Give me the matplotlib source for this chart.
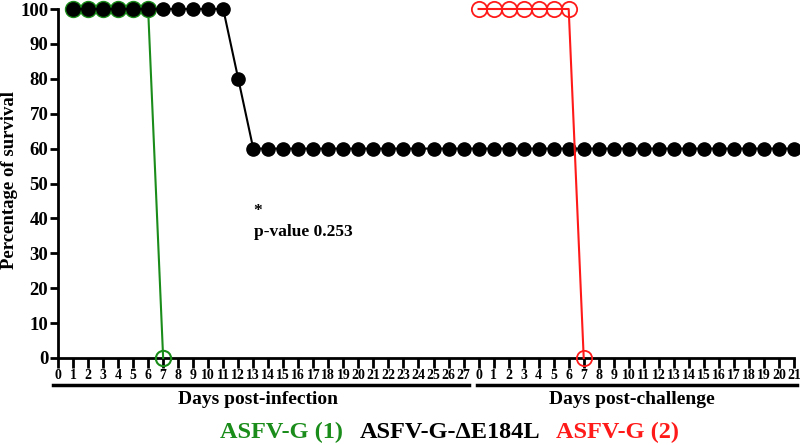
import matplotlib
matplotlib.use("Agg")
import matplotlib.pyplot as plt

# ---- data ----
infection_days = [0, 1, 2, 3, 4, 5, 6, 7, 8, 9, 10, 11, 12, 13, 14, 15, 16, 17, 18, 19,
                  20, 21, 22, 23, 24, 25, 26, 27]
challenge_days = [0, 1, 2, 3, 4, 5, 6, 7, 8, 9, 10, 11, 12, 13, 14, 15, 16, 17, 18, 19, 20, 21]

green_days = [1, 2, 3, 4, 5, 6, 7]
green_surv = [100, 100, 100, 100, 100, 100, 0]

black_inf_days = [1, 2, 3, 4, 5, 6, 7, 8, 9, 10, 11, 12, 13, 14, 15, 16, 17, 18, 19, 20,
                  21, 22, 23, 24, 25, 26, 27]
black_inf_surv = [100, 100, 100, 100, 100, 100, 100, 100, 100, 100, 100, 80, 60, 60, 60,
                  60, 60, 60, 60, 60, 60, 60, 60, 60, 60, 60, 60]
black_ch_days = [0, 1, 2, 3, 4, 5, 6, 7, 8, 9, 10, 11, 12, 13, 14, 15, 16, 17, 18, 19, 20, 21]
black_ch_surv = [60, 60, 60, 60, 60, 60, 60, 60, 60, 60, 60, 60, 60, 60, 60, 60, 60, 60,
                 60, 60, 60, 60]

red_days = [0, 1, 2, 3, 4, 5, 6, 7]
red_surv = [100, 100, 100, 100, 100, 100, 100, 0]

y_ticks = [0, 10, 20, 30, 40, 50, 60, 70, 80, 90, 100]
xlabel_inf = "Days post-infection"
xlabel_ch = "Days post-challenge"
ylabel = "Percentage of survival"
legend_labels = ["ASFV-G (1)", "ASFV-G-ΔE184L", "ASFV-G (2)"]
legend_colors = ["#1a8c1a", "black", "#ff1a1a"]
annot = "p-value 0.253"

# ---- layout ----
offset = infection_days[-1] + 1  # challenge day 0 placed after infection day 27

plt.rcParams['font.family'] = ['Liberation Serif', 'DejaVu Serif']
plt.rcParams['font.weight'] = 'bold'

W, H = 800, 445
fig = plt.figure(figsize=(W / 100, H / 100), dpi=100)
ax = fig.add_axes([58 / W, 1 - 358 / H, (794 - 58) / W, (358 - 9) / H])

green = legend_colors[0]
red = legend_colors[2]

# green series (open circles)
ax.plot(green_days, green_surv, color=green, lw=1.5, marker='o', ms=11,
        mfc='none', mec=green, mew=1.5, clip_on=False, zorder=3)

# black series
bx = black_inf_days + [d + offset for d in black_ch_days]
by = black_inf_surv + black_ch_surv
ax.plot(bx, by, color='black', lw=1.5, marker='o', ms=9.5, mfc='black', mec='black',
        clip_on=False, zorder=4)

# red series
rx = [d + offset for d in red_days]
ax.plot(rx, red_surv, color=red, lw=1.5, marker='o', ms=11, mfc='none', mec=red,
        mew=1.3, clip_on=False, zorder=5)

ax.set_xlim(0, offset + challenge_days[-1])
ax.set_ylim(0, 100)

for s in ['top', 'right']:
    ax.spines[s].set_visible(False)
for s in ['left', 'bottom']:
    ax.spines[s].set_linewidth(2)

ax.set_yticks(y_ticks)
ax.set_yticklabels([str(v) for v in y_ticks], fontsize=13.5, fontweight='bold')
ax.tick_params(axis='y', length=6, width=2, pad=1)

xt = infection_days + [d + offset for d in challenge_days]
xl = [str(d) for d in infection_days] + [str(d) for d in challenge_days]
ax.set_xticks(xt)
ax.set_xticklabels(xl, fontsize=10, fontweight='bold')
ax.tick_params(axis='x', length=7, width=2, pad=1)

ax.set_ylabel(ylabel, fontsize=13.5, fontweight='bold', va='center')
ax.yaxis.set_label_coords(-48 / 736, 0.51)

# group bars under x-axis
tr = ax.get_xaxis_transform()
ax.plot([-0.35, infection_days[-1] + 0.35], [-0.077, -0.077], color='black', lw=2.5,
        transform=tr, clip_on=False)
ax.plot([offset - 0.1, offset + challenge_days[-1] + 0.2], [-0.077, -0.077], color='black',
        lw=2.5, transform=tr, clip_on=False)
ax.text(infection_days[-1] / 2 - 0.2, -0.12, xlabel_inf, transform=tr, ha='center',
        va='center', fontsize=14, fontweight='bold')
ax.text(offset + challenge_days[-1] / 2 - 0.3, -0.12, xlabel_ch, transform=tr, ha='center',
        va='center', fontsize=14, fontweight='bold')

# annotation
ax.text(13.3, 42, "*", fontsize=12.5, fontweight='bold', ha='center', va='center')
ax.text(13.05, 36, annot, fontsize=12.5, fontweight='bold', ha='left', va='center')

# legend-like colored labels
for lab, col, xc in zip(legend_labels, legend_colors, [281, 450, 618]):
    fig.text(xc / W, 1 - 432 / H, lab, color=col, fontsize=17.5, fontweight='bold',
             ha='center', va='center')

fig.savefig("out.png", dpi=100)
